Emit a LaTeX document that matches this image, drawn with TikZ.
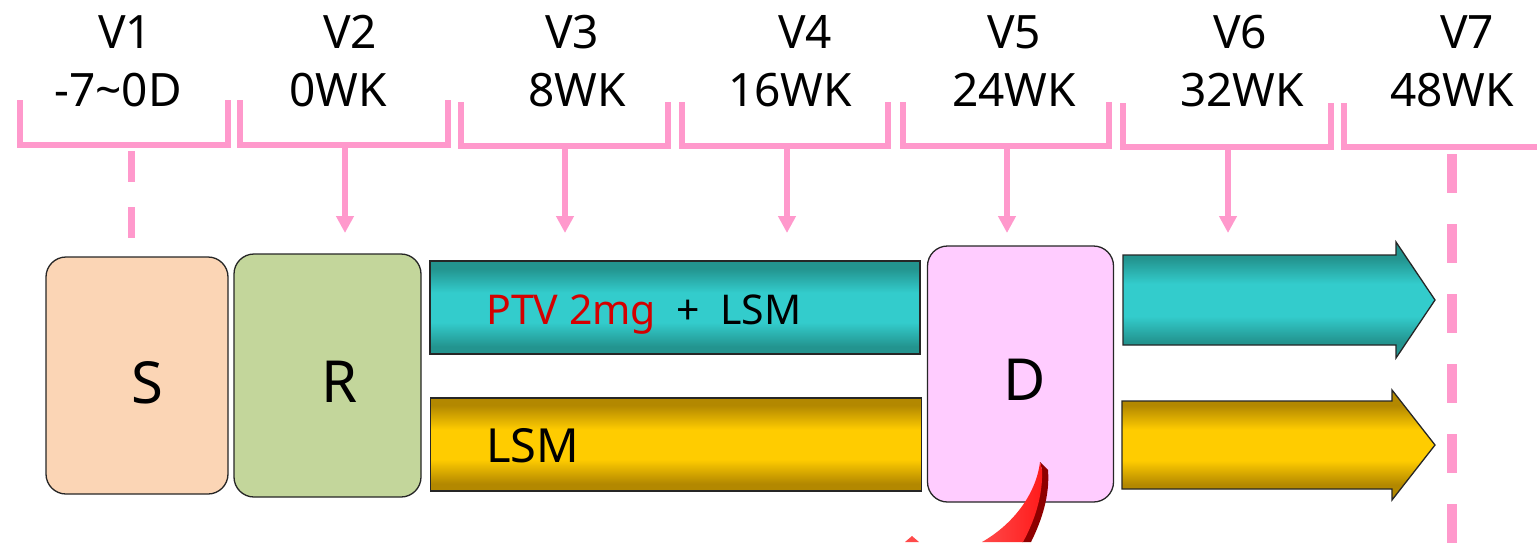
\documentclass[tikz,border=0pt]{standalone}
\usepackage{fontspec}
\setmainfont{Noto Sans}
\usetikzlibrary{arrows.meta}
\definecolor{pinkline}{HTML}{FF99CC}
\definecolor{sfill}{HTML}{FBD5B5}
\definecolor{rfill}{HTML}{C3D69B}
\definecolor{dfill}{HTML}{FFCCFF}
\definecolor{tealdark}{HTML}{23948F}
\definecolor{teallight}{HTML}{33CCCC}
\definecolor{golddark}{HTML}{B38800}
\definecolor{goldlight}{HTML}{FFCC00}
\definecolor{ptvred}{HTML}{D40000}
\definecolor{arrowred}{HTML}{FF1A1A}
\definecolor{arrowredlight}{HTML}{FF4A4A}
\definecolor{arrowdark}{HTML}{8E0000}
\pgfdeclareverticalshading{tealband}{100bp}{color(0bp)=(tealdark); color(25bp)=(tealdark); color(29bp)=(tealdark); color(42bp)=(teallight); color(58bp)=(teallight); color(71bp)=(tealdark); color(75bp)=(tealdark); color(100bp)=(tealdark)}
\pgfdeclareverticalshading{goldband}{100bp}{color(0bp)=(golddark); color(25bp)=(golddark); color(29bp)=(golddark); color(42bp)=(goldlight); color(58bp)=(goldlight); color(71bp)=(golddark); color(75bp)=(golddark); color(100bp)=(golddark)}
\pgfdeclareverticalshading{tealarrow}{100bp}{color(0bp)=(tealdark); color(25bp)=(tealdark); color(32bp)=(tealdark); color(43bp)=(teallight); color(57bp)=(teallight); color(68bp)=(tealdark); color(75bp)=(tealdark); color(100bp)=(tealdark)}
\pgfdeclareverticalshading{goldarrow}{100bp}{color(0bp)=(golddark); color(25bp)=(golddark); color(32bp)=(golddark); color(43bp)=(goldlight); color(57bp)=(goldlight); color(68bp)=(golddark); color(75bp)=(golddark); color(100bp)=(golddark)}
\begin{document}
\begin{tikzpicture}[x=1pt,y=-1pt,
  hdr/.style={anchor=base,inner sep=0pt,font=\fontsize{46}{50}\selectfont},
  bigletter/.style={anchor=base,inner sep=0pt,font=\fontsize{58}{62}\selectfont},
  bartext/.style={anchor=base west,inner sep=0pt},
  bracketline/.style={draw=pinkline,line width=6pt},
  pinkarrow/.style={draw=pinkline,line width=6pt,-{Triangle[width=17pt,length=17pt]}},
  pinkdash/.style={draw=pinkline,line width=7pt,dash pattern=on 31pt off 25pt},
  stagebox/.style={draw=black!85,line width=1.3pt,rounded corners=20pt,inner sep=0pt},
  barbox/.style={draw=black!85,line width=1.3pt,inner sep=0pt,rectangle},
  arrowbox/.style={draw=black!85,line width=1.3pt}
]
\useasboundingbox (0,0) rectangle (1537,542);

% header labels
\node[hdr] (v1) at (125,48) {V1};
\node[hdr] (v2) at (350,48) {V2};
\node[hdr] (v3) at (572,48) {V3};
\node[hdr] (v4) at (805,48) {V4};
\node[hdr] (v5) at (1014,48) {V5};
\node[hdr] (v6) at (1240,48) {V6};
\node[hdr] (v7) at (1467,48) {V7};
\node[hdr] (w1) at (118,106) {-7\char"007E 0D};
\node[hdr] (w2) at (338,106) {0WK};
\node[hdr] (w3) at (577,106) {8WK};
\node[hdr] (w4) at (790,106) {16WK};
\node[hdr] (w5) at (1014,106) {24WK};
\node[hdr] (w6) at (1242,106) {32WK};
\node[hdr] (w7) at (1452,106) {48WK};

% brackets
\draw[bracketline] (20,100) -- (20,145) -- (228,145) -- (228,100);
\draw[bracketline] (240,100) -- (240,145) -- (448,145) -- (448,100);
\draw[bracketline] (461,102) -- (461,146) -- (668,146) -- (668,102);
\draw[bracketline] (682,102) -- (682,146) -- (888,146) -- (888,102);
\draw[bracketline] (903,102) -- (903,146) -- (1109,146) -- (1109,102);
\draw[bracketline] (1123,103) -- (1123,147) -- (1331,147) -- (1331,103);
\draw[bracketline] (1344,103) -- (1344,147) -- (1545,147);

% stage boxes
\node[stagebox,fill=sfill,minimum width=182pt,minimum height=237pt] (S) at (137,375.5) {};
\node[stagebox,fill=rfill,minimum width=187pt,minimum height=243pt] (R) at (327.5,375.5) {};
\node[stagebox,fill=dfill,minimum width=186pt,minimum height=256pt] (D) at (1020.5,374) {};
\node[bigletter] (Sl) at (147,403) {S};
\node[bigletter] (Rl) at (340,402) {R};
\node[bigletter] (Dl) at (1025,400) {D};

% treatment bars
\node[barbox,shading=tealband,minimum width=490pt,minimum height=93pt] (bar1) at (675,307.5) {};
\node[barbox,shading=goldband,minimum width=491pt,minimum height=93pt] (bar2) at (676,444.5) {};
\node[bartext,font=\fontsize{41}{45}\selectfont] (t1) at (486,324) {\textcolor{ptvred}{PTV 2mg}\hspace{0.5em}+\hspace{0.5em}LSM};
\node[bartext,font=\fontsize{47}{51}\selectfont] (t2) at (486,462) {LSM};

% continuation arrows
\draw[arrowbox,shading=tealarrow] (1123,255) -- (1396,255) -- (1396,242) -- (1435,300) -- (1396,358) -- (1396,345) -- (1123,345) -- cycle;
\draw[arrowbox,shading=goldarrow] (1122,401) -- (1392,401) -- (1392,390) -- (1435,445) -- (1392,500) -- (1392,489) -- (1122,489) -- cycle;

% pink connectors
\coordinate (b1) at (131,151);
\coordinate (e1) at (131,238);
\draw[pinkdash] (b1) -- (e1);
\foreach \n/\x in {2/345,3/565,4/787,5/1007,6/1228}{
  \coordinate (b\n) at (\x,148);
  \coordinate (e\n) at (\x,233);
  \draw[pinkarrow] (b\n) -- (e\n);
}
\coordinate (b7) at (1452,154);
\coordinate (e7) at (1452,545);
\draw[draw=pinkline,line width=10pt,dash pattern=on 39pt off 31pt] (b7) -- (e7);

% red curved arrow (partly visible)
\fill[arrowdark] (1040,462) -- (1048,470) .. controls (1050,495) and (1042,520) .. (1031,542) -- (1022,542) .. controls (1034,520) and (1042,495) .. (1042,470) -- cycle;
\shade[left color=arrowredlight,right color=arrowred] (1040,462) .. controls (1036,495) and (1012,525) .. (982,542) -- (1023,542) .. controls (1035,520) and (1043,495) .. (1042,470) -- cycle;
\fill[arrowredlight] (905,542) -- (912,536) -- (919,542) -- cycle;
\end{tikzpicture}
\end{document}
